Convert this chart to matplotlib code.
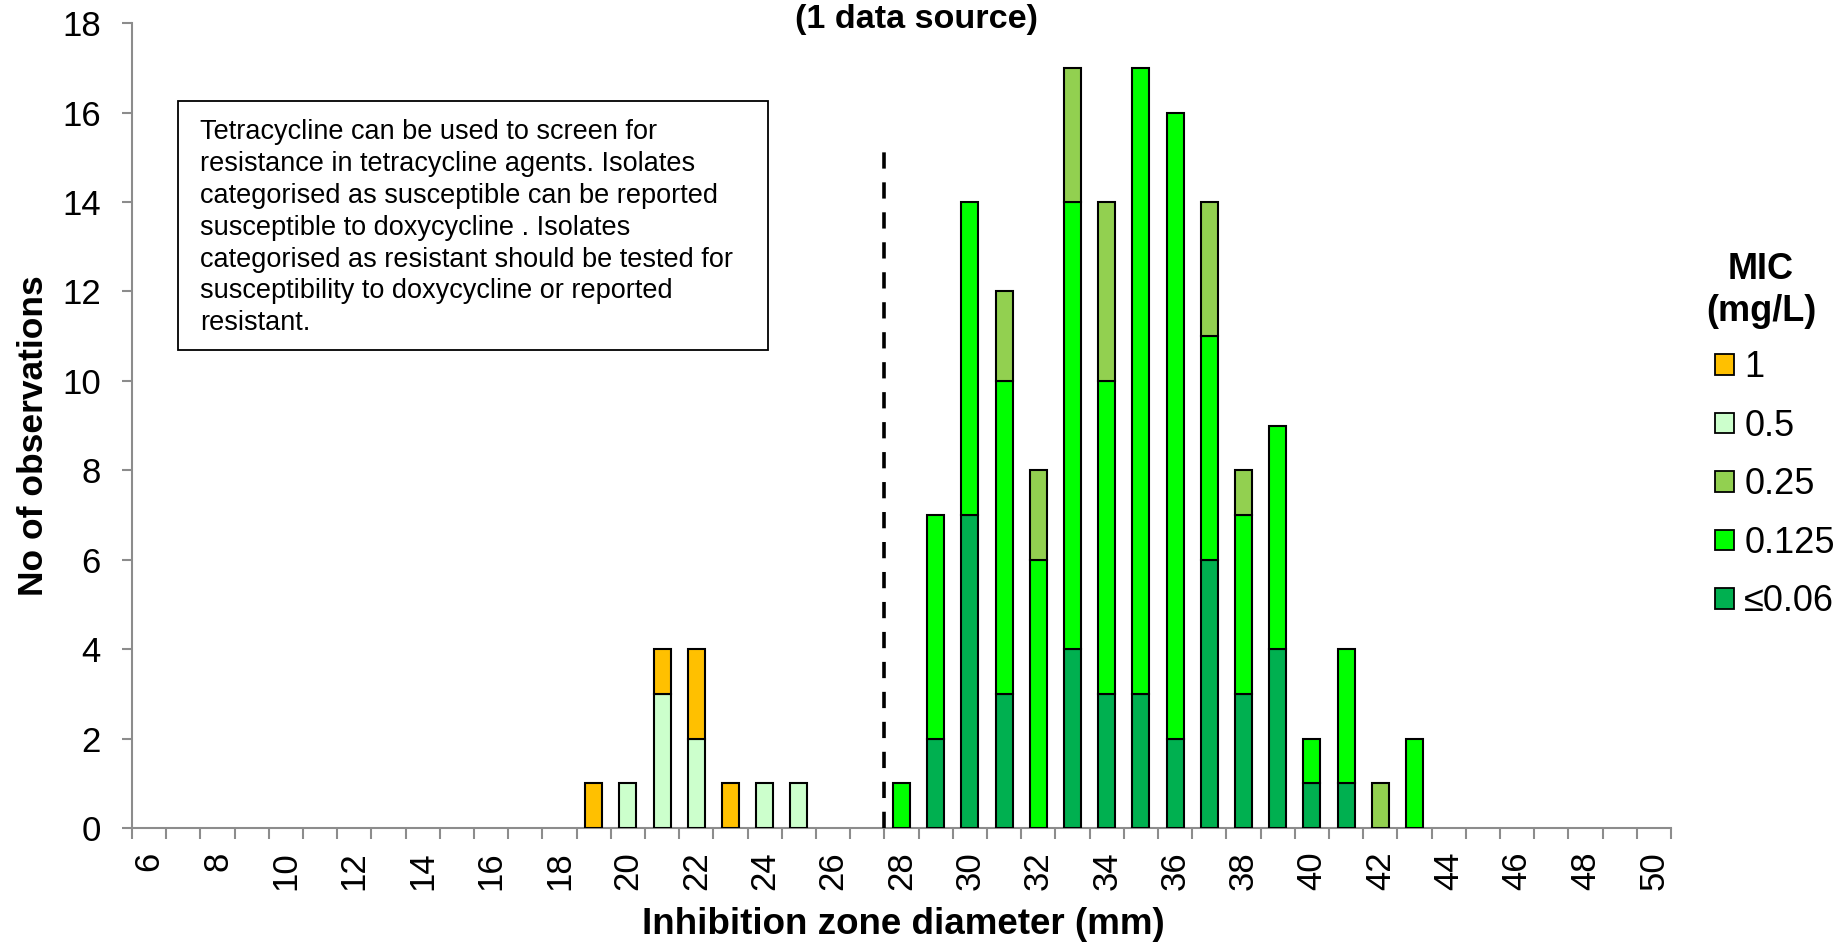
import numpy as np
import matplotlib
matplotlib.use("Agg")
import matplotlib.pyplot as plt
from matplotlib.patches import Patch, Rectangle

plt.rcParams['font.family'] = ['Liberation Sans', 'DejaVu Sans']

# zone diameters (mm), 6..50
diametros = list(range(6, 51))

# counts per MIC class, keyed by diameter
mic_006 = {29: 2, 30: 7, 31: 3, 33: 4, 34: 3, 35: 3, 36: 2, 37: 6, 38: 3, 39: 4, 40: 1, 41: 1}
mic_0125 = {28: 1, 29: 5, 30: 7, 31: 7, 32: 6, 33: 10, 34: 7, 35: 14, 36: 14, 37: 5,
            38: 4, 39: 5, 40: 1, 41: 3, 43: 2}
mic_025 = {31: 2, 32: 2, 33: 3, 34: 4, 37: 3, 38: 1, 42: 1}
mic_05 = {20: 1, 21: 3, 22: 2, 24: 1, 25: 1}
mic_1 = {19: 1, 21: 1, 22: 2, 23: 1}

series = [
    ("\u22640.06", mic_006, "#00B050"),
    ("0.125", mic_0125, "#00FF00"),
    ("0.25", mic_025, "#92D050"),
    ("0.5", mic_05, "#CCFFCC"),
    ("1", mic_1, "#FFC000"),
]

breakpoint_mm = 27.5
breakpoint_top = 15.25

texto = ("Tetracycline can be used to screen for\n"
         "resistance in tetracycline agents. Isolates\n"
         "categorised as susceptible can be reported\n"
         "susceptible to doxycycline . Isolates\n"
         "categorised as resistant should be tested for\n"
         "susceptibility to doxycycline or reported\n"
         "resistant.")

fig = plt.figure(figsize=(18.47, 9.43), dpi=100)
ax = fig.add_axes([0.0715, 0.122, 0.8332, 0.8535])

x = np.array(diametros)
base = np.zeros(len(x))
for nome, dados, cor in series:
    vals = np.array([dados.get(d, 0) for d in diametros])
    mask = vals > 0
    ax.bar(x[mask], vals[mask], bottom=base[mask], width=0.5, color=cor,
           edgecolor="black", linewidth=1.5, zorder=3)
    base = base + vals

# breakpoint
ax.plot([breakpoint_mm, breakpoint_mm], [0, breakpoint_top], color="black",
        linestyle=(0, (4.5, 3.8)), linewidth=2.6, zorder=4)

ax.set_xlim(5.5, 50.5)
ax.set_ylim(0, 18)
ax.set_xticks(range(6, 51, 2))
ax.set_xticks(np.arange(5.5, 51, 1), minor=True)
ax.set_yticks(range(0, 19, 2))
ax.tick_params(axis="x", which="major", length=0, labelsize=25, labelrotation=90, pad=17)
ax.tick_params(axis="x", which="minor", length=8, width=1.5, color="#8c8c8c")
ax.tick_params(axis="y", length=7.5, width=1.5, color="#8c8c8c", labelsize=25, pad=15)
for lab in ax.get_xticklabels():
    lab.set_va("top")

for s in ["top", "right"]:
    ax.spines[s].set_visible(False)
for s in ["left", "bottom"]:
    ax.spines[s].set_color("#8c8c8c")
    ax.spines[s].set_linewidth(1.5)

ax.set_xlabel("Inhibition zone diameter (mm)", fontsize=26.5, fontweight="bold")
ax.xaxis.set_label_coords(0.501, -0.098)
ax.set_ylabel("No of observations", fontsize=25.5, fontweight="bold")
ax.yaxis.set_label_coords(-0.053, 0.488)

fig.text(0.4963, 0.979, "(1 data source)", ha="center", va="center",
         fontsize=24.6, fontweight="bold")

# note box
ax.add_patch(Rectangle((6.84, 10.69), 24.1 - 6.84, 16.26 - 10.69, facecolor="white",
                       edgecolor="black", linewidth=1.3, zorder=5))
ax.text(7.48, 13.42, texto, ha="left", va="center", fontsize=19.5, linespacing=1.29,
        zorder=6)

# legend
handles = [Patch(facecolor=cor, edgecolor="black", linewidth=1.3, label=nome)
           for nome, dados, cor in reversed(series)]
fig.legend(handles=handles, loc="center left", bbox_to_anchor=(0.9285, 0.486),
           frameon=False, fontsize=26, borderpad=0, borderaxespad=0,
           handlelength=0.53, handleheight=0.5, handletextpad=0.28, labelspacing=0.65)
fig.text(0.9535, 0.692, "MIC\n(mg/L)", ha="center", va="center", fontsize=26,
         fontweight="bold", linespacing=1.25)

fig.savefig("out.png", dpi=100)
